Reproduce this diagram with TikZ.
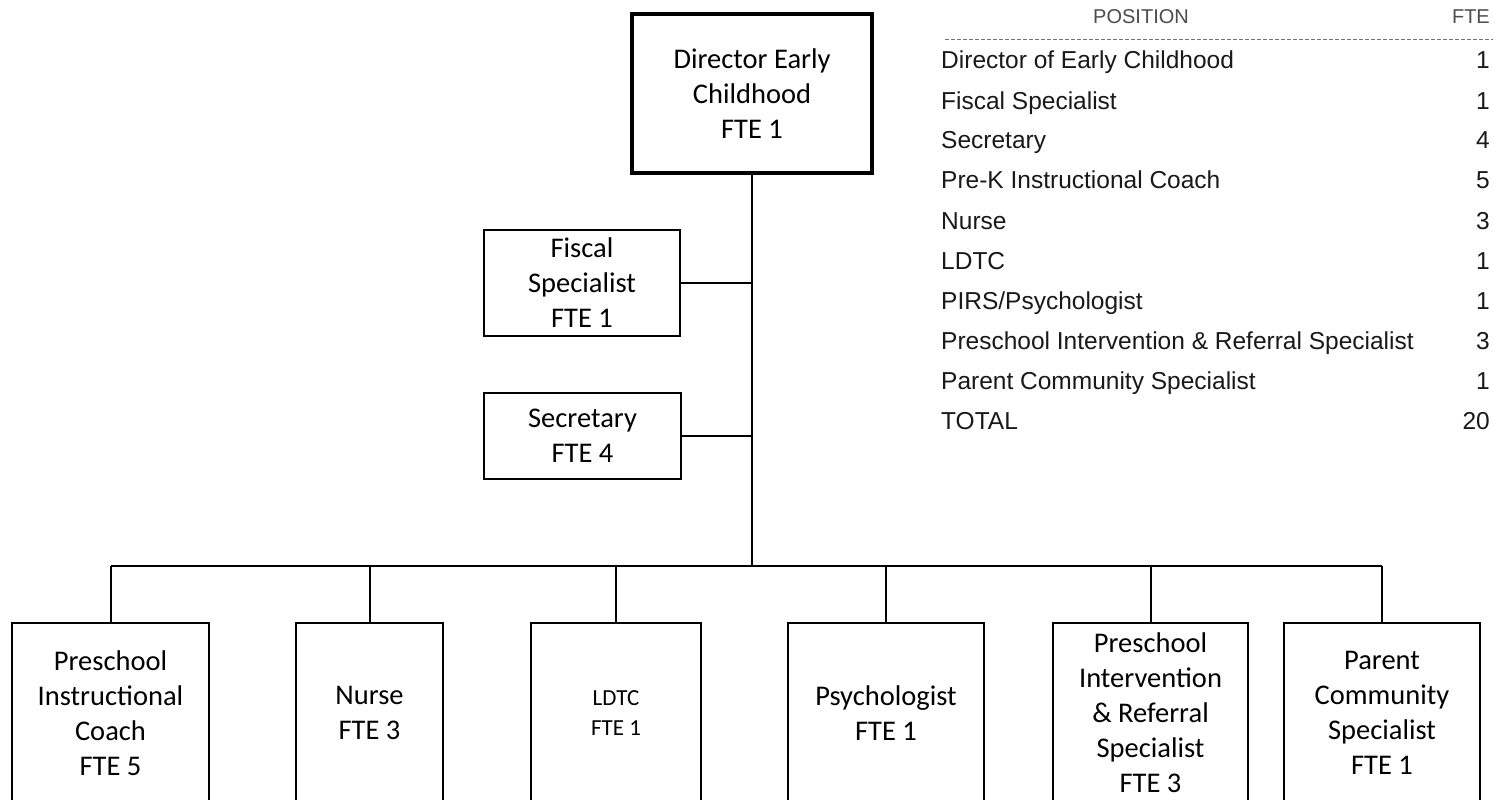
\documentclass[tikz,border=0pt]{standalone}
\usepackage{fontspec}
\setmainfont{Carlito}
\newfontfamily\tablefont{Liberation Sans}
\begin{document}
\begin{tikzpicture}[x=1pt, y=-1pt,
  orgbox/.style={draw, line width=1.8pt, inner sep=0pt, align=center,
    font=\fontsize{28.5}{35}\selectfont},
  topbox/.style={orgbox, line width=3.2pt},
  link/.style={line width=2pt},
  rowtext/.style={anchor=mid west, inner sep=0pt, text=black!90,
    font=\tablefont\fontsize{24.5}{29}\selectfont},
  rownum/.style={rowtext, anchor=mid east},
  headtext/.style={anchor=mid, inner sep=0pt, text=black!70,
    font=\tablefont\fontsize{20}{24}\selectfont}]

\clip (0,0) rectangle (1493,800);
\fill[white] (0,0) rectangle (1493,800);

% top of the chart
\node[topbox, minimum width=240pt, minimum height=159pt] (dir) at (752,93.5)
  {Director Early\\Childhood\\FTE 1};
\node[orgbox, minimum width=196pt, minimum height=106pt] (fis) at (582,283)
  {Fiscal\\Specialist\\FTE 1};
\node[orgbox, minimum width=197pt, minimum height=86pt] (sec) at (582.5,436)
  {Secretary\\FTE 4};

% bottom row (boxes run past the lower edge)
\node[orgbox, minimum width=197pt, minimum height=180pt] (pic) at (110.5,713)
  {Preschool\\Instructional\\Coach\\FTE 5};
\node[orgbox, minimum width=147pt, minimum height=180pt] (nur) at (369.5,713)
  {Nurse\\FTE 3};
\node[orgbox, minimum width=170pt, minimum height=180pt,
  font=\fontsize{23}{30}\selectfont] (ldt) at (616,713)
  {LDTC\\FTE 1};
\node[orgbox, minimum width=196pt, minimum height=180pt] (psy) at (886,713)
  {Psychologist\\FTE 1};
\node[orgbox, minimum width=195pt, minimum height=180pt] (pir) at (1150.5,713)
  {Preschool\\Intervention\\\& Referral\\Specialist\\FTE 3};
\node[orgbox, minimum width=196pt, minimum height=180pt] (pcs) at (1382,713)
  {Parent\\Community\\Specialist\\FTE 1};

% connectors
\coordinate (bus) at (752,566);
\draw[link] (dir.south) -- (bus);
\draw[link] (fis.east) -- (fis.east -| dir.south);
\draw[link] (sec.east) -- (sec.east -| dir.south);
\draw[link] (pic.north |- bus) -- (pcs.north |- bus);
\foreach \b in {pic,nur,ldt,psy,pir,pcs}
  \draw[link] (\b.north |- bus) -- (\b.north);

% staffing table
\node[headtext] (hpos) at (1141,21) {POSITION};
\node[headtext, anchor=mid east] (hfte) at (1490,21) {FTE};
\draw[black!55, line width=1pt, dash pattern=on 4pt off 2pt] (945,40) -- (1493,40);

\foreach \i/\pos/\fte/\y in {
  1/Director of Early Childhood/1/66,
  2/Fiscal Specialist/1/107,
  3/Secretary/4/146,
  4/Pre-K Instructional Coach/5/186,
  5/Nurse/3/227,
  6/LDTC/1/267,
  7/PIRS\slash Psychologist/1/307,
  8/Preschool Intervention \& Referral Specialist/3/347,
  9/Parent Community Specialist/1/387,
  10/TOTAL/20/427} {
  \node[rowtext] (pos\i) at (941,\y) {\pos};
  \node[rownum] (fte\i) at (1490,\y) {\fte};
}
\end{tikzpicture}
\end{document}
